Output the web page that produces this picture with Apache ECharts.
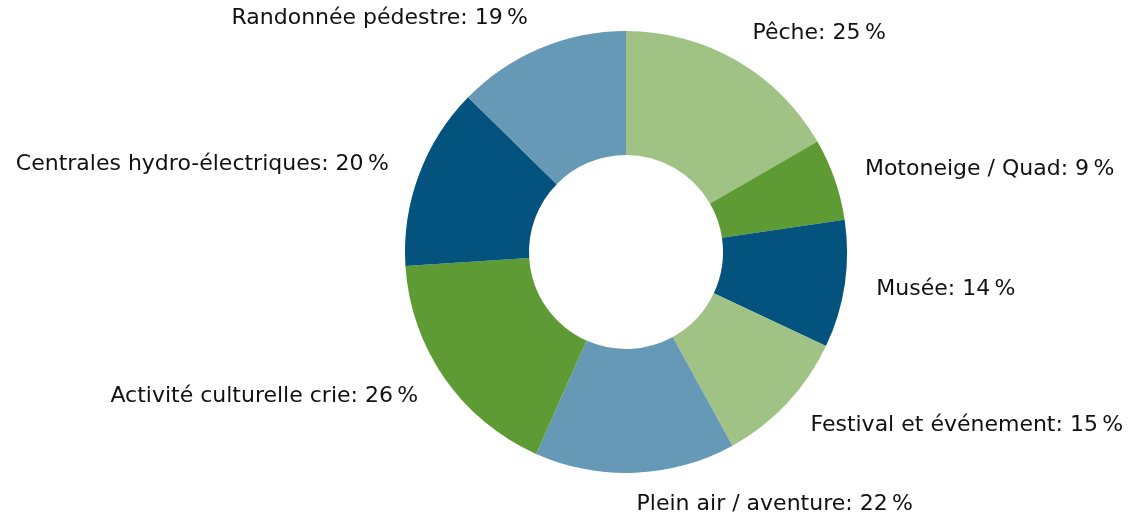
<!DOCTYPE html>
<html lang="fr">
<head>
    <meta charset="UTF-8">
    <title>Activités</title>
    <script src="https://cdn.jsdelivr.net/npm/echarts@6/dist/echarts.min.js"></script>
</head>
<body style="margin:0;background:#fff">
<div id="main" style="width:1145px;height:522px"></div>
<script>
    // données
    const categories = ['Pêche', 'Motoneige / Quad', 'Musée', 'Festival et événement', 'Plein air / aventure',
        'Activité culturelle crie', 'Centrales hydro-électriques', 'Randonnée pédestre'];
    const values = [25, 9, 14, 15, 22, 26, 20, 19];
    const colors = ['#a0c284', '#5f9b34', '#03537e', '#a0c284', '#6699b5', '#5f9b34', '#03537e', '#6699b5'];

    const chart = echarts.init(document.getElementById('main'));
    const option = {
        animation: false,
        series: [{
            type: 'pie',
            center: [626, 252],
            radius: [97, 221],
            startAngle: 90,
            avoidLabelOverlap: false,
            data: categories.map((name, i) => ({
                name: name,
                value: values[i],
                itemStyle: {color: colors[i]}
            })),
            label: {
                show: true,
                position: 'outside',
                formatter: p => p.name + ': ' + p.value + '\u2009%',
                fontFamily: 'DejaVu Sans, sans-serif',
                fontSize: 22,
                color: '#111',
                distanceToLabelLine: 0
            },
            labelLine: {show: false, length: 32, length2: 0},
            emphasis: {scale: false}
        }]
    };
    chart.setOption(option);
</script>
</body>
</html>
